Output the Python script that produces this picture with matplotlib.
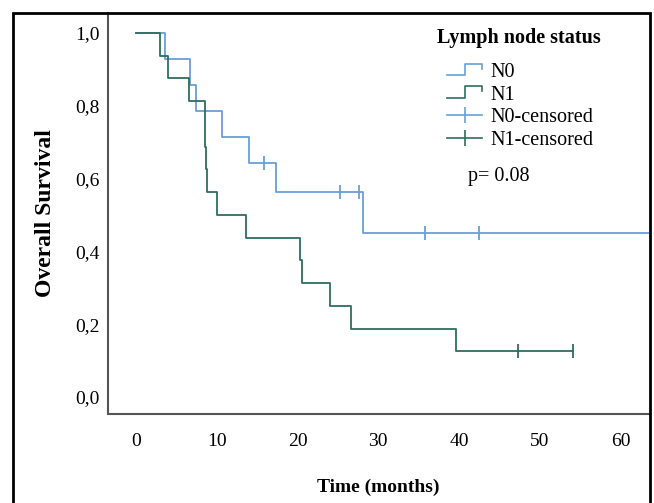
import numpy as np
import matplotlib
matplotlib.use("Agg")
import matplotlib.pyplot as plt
from matplotlib.lines import Line2D
from matplotlib.legend_handler import HandlerBase
from matplotlib.patches import Rectangle

# Kaplan-Meier steps (months, survival)
n0_time = [0, 3.6, 6.75, 7.45, 10.6, 14.0, 17.3, 28.1, 66.0]
n0_surv = [1.0, 0.929, 0.857, 0.786, 0.714, 0.643, 0.563, 0.450, 0.450]
n0_cens = [15.8, 25.2, 27.6, 35.8, 42.5]

n1_time = [0, 3.0, 4.0, 6.6, 8.5, 8.6, 8.7, 8.85, 10.0, 13.65, 20.3, 20.6, 24.0, 26.6, 39.6, 54.1]
n1_surv = [1.0, 0.9375, 0.875, 0.8125, 0.75, 0.6875, 0.625, 0.5625, 0.5, 0.4375, 0.375, 0.3125,
           0.25, 0.1875, 0.125, 0.125]
n1_cens = [47.3, 54.1]

yticks = [0.0, 0.2, 0.4, 0.6, 0.8, 1.0]
ytick_labels = ["0,0", "0,2", "0,4", "0,6", "0,8", "1,0"]
xticks = [0, 10, 20, 30, 40, 50, 60]
leg_title = "Lymph node status"
leg_labels = ["N0", "N1", "N0-censored", "N1-censored"]
p_text = "p= 0.08"

c_n0 = "#6a9fd8"
c_n1 = "#2e6e5e"

plt.rcParams['font.family'] = ['Liberation Serif', 'DejaVu Serif']


def surv_at(times, surv, t):
    # value of the step function at time t
    idx = np.searchsorted(times, t, side='right') - 1
    return np.array(surv)[idx]


class HandlerStep(HandlerBase):
    def create_artists(self, legend, orig_handle, xdescent, ydescent, width, height, fontsize, trans):
        xs = np.array([0, 0.5, 0.5, 1.0, 1.0]) * width - xdescent
        ys = np.array([0.15, 0.15, 0.95, 0.95, 0.6]) * height - ydescent
        ln = Line2D(xs, ys, color=orig_handle.get_color(), lw=1.2)
        ln.set_transform(trans)
        return [ln]


fig = plt.figure(figsize=(6.54, 5.03), dpi=100)
ax = fig.add_axes([108 / 654, 1 - 414 / 503, (649 - 108) / 654, (414 - 13) / 503])

ax.step(n0_time, n0_surv, where='post', color=c_n0, lw=1.3)
ax.step(n1_time, n1_surv, where='post', color=c_n1, lw=1.3)
ax.plot(n0_cens, surv_at(n0_time, n0_surv, n0_cens), ls='none', marker='|', ms=9.5, mew=1.3, color=c_n0)
ax.plot(n1_cens, surv_at(n1_time, n1_surv, n1_cens), ls='none', marker='|', ms=9.5, mew=1.3, color=c_n1)

ax.set_xlim(-3.45, 63.5)
ax.set_ylim(-0.047, 1.055)
ax.set_xticks(xticks)
ax.set_yticks(yticks)
ax.set_yticklabels(ytick_labels)
ax.tick_params(axis='both', length=0, labelsize=14)
ax.tick_params(axis='x', pad=14)
ax.tick_params(axis='y', pad=6)
for s in ['top', 'right']:
    ax.spines[s].set_visible(False)
for s in ['left', 'bottom']:
    ax.spines[s].set_color('#555555')
    ax.spines[s].set_linewidth(1.5)

ax.set_xlabel("Time (months)", fontsize=14, fontweight='bold', labelpad=20)
ax.set_ylabel("Overall Survival", fontsize=17, fontweight='bold', labelpad=14)

h_n0 = Line2D([], [], color=c_n0)
h_n1 = Line2D([], [], color=c_n1)
h_c0 = Line2D([], [], color=c_n0, marker='|', ms=12, mew=1.2, lw=1.2)
h_c1 = Line2D([], [], color=c_n1, marker='|', ms=12, mew=1.2, lw=1.2)
leg = ax.legend([h_n0, h_n1, h_c0, h_c1], leg_labels,
                frameon=False, fontsize=14.5,
                handler_map={h_n0: HandlerStep(), h_n1: HandlerStep()},
                handlelength=1.75, handletextpad=0.4, labelspacing=0.17,
                loc='upper left', bbox_to_anchor=(447 / 654, 1 - 63 / 503),
                bbox_transform=fig.transFigure, borderaxespad=0, borderpad=0)

fig.text(519 / 654, 1 - 38 / 503, leg_title, fontsize=14.5, fontweight='bold', ha='center', va='center')
fig.text(468 / 654, 1 - 176 / 503, p_text, fontsize=14.5, va='center', ha='left')

# outer frame
fig.patches.append(Rectangle((13 / 654, -0.05), 637 / 654, 1.05 - 13 / 503, transform=fig.transFigure,
                             fill=False, edgecolor='black', lw=2))

fig.savefig("out.png", dpi=100)
